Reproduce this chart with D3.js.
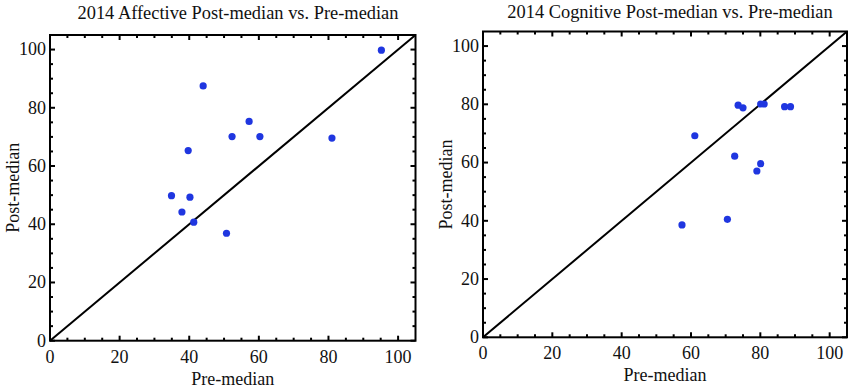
<!DOCTYPE html>
<html>
<head>
<meta charset="utf-8">
<script src="https://cdn.jsdelivr.net/npm/d3@7"></script>
<style>
  html, body { margin: 0; padding: 0; background: #fff; }
  svg { display: block; }
  text { font-family: "Liberation Serif", "Times New Roman", serif; fill: #111; }
</style>
</head>
<body>
<div id="chart"></div>
<script>
// values
const affectivePre  = [95.2, 44.0, 57.2, 52.3, 60.3, 81.0, 39.7, 34.9, 40.2, 37.9, 41.3, 50.7];
const affectivePost = [99.8, 87.5, 75.3, 70.1, 70.1, 69.6, 65.3, 49.8, 49.3, 44.2, 40.7, 36.9];

const cognitivePre  = [61.1, 73.6, 75.0, 80.1, 81.1, 87.0, 88.7, 72.6, 80.1, 79.0, 57.4, 70.5];
const cognitivePost = [69.2, 79.7, 78.8, 80.1, 80.1, 79.2, 79.2, 62.2, 59.6, 57.1, 38.6, 40.5];

const majorTicks = [0, 20, 40, 60, 80, 100];
const minorTicks = d3.range(5, 105, 5).filter(v => v % 20 !== 0);
const axisDomain = [0, 105];

const width = 850, height = 391;
const dotColor = '#1f36e0';

const svg = d3.select('#chart').append('svg')
    .attr('width', width)
    .attr('height', height);

function drawPanel(opts) {
    const x = d3.scaleLinear().domain(axisDomain).range([opts.left, opts.right]);
    const y = d3.scaleLinear().domain(axisDomain).range([opts.bottom, opts.top]);
    const g = svg.append('g');

    // title
    g.append('text')
        .attr('x', opts.titleX)
        .attr('y', opts.titleY)
        .attr('text-anchor', 'middle')
        .style('font-size', '18.4px')
        .text(opts.title);

    // diagonal y = x
    g.append('line')
        .attr('x1', x(0)).attr('y1', y(0))
        .attr('x2', x(105)).attr('y2', y(105))
        .attr('stroke', '#000')
        .attr('stroke-width', 2);

    // ticks (inward, mirrored on all four sides)
    const tickSets = [
        { vals: majorTicks, len: 5 },
        { vals: minorTicks, len: 3 }
    ];
    tickSets.forEach(ts => {
        ts.vals.forEach(v => {
            // bottom / top
            g.append('line').attr('x1', x(v)).attr('x2', x(v))
                .attr('y1', opts.bottom).attr('y2', opts.bottom - ts.len)
                .attr('stroke', '#000').attr('stroke-width', 2);
            g.append('line').attr('x1', x(v)).attr('x2', x(v))
                .attr('y1', opts.top).attr('y2', opts.top + ts.len)
                .attr('stroke', '#000').attr('stroke-width', 2);
            // left / right
            g.append('line').attr('y1', y(v)).attr('y2', y(v))
                .attr('x1', opts.left).attr('x2', opts.left + ts.len)
                .attr('stroke', '#000').attr('stroke-width', 2);
            g.append('line').attr('y1', y(v)).attr('y2', y(v))
                .attr('x1', opts.right).attr('x2', opts.right - ts.len)
                .attr('stroke', '#000').attr('stroke-width', 2);
        });
    });

    // frame
    g.append('rect')
        .attr('x', opts.left).attr('y', opts.top)
        .attr('width', opts.right - opts.left)
        .attr('height', opts.bottom - opts.top)
        .attr('fill', 'none')
        .attr('stroke', '#000')
        .attr('stroke-width', 2);

    // tick labels
    g.selectAll('.xlab')
        .data(majorTicks)
        .enter()
        .append('text')
        .attr('class', 'xlab')
        .attr('x', d => x(d))
        .attr('y', opts.bottom + 22)
        .attr('text-anchor', 'middle')
        .style('font-size', '18px')
        .text(d => d);

    g.selectAll('.ylab')
        .data(majorTicks)
        .enter()
        .append('text')
        .attr('class', 'ylab')
        .attr('x', opts.left - 4)
        .attr('y', d => y(d))
        .attr('dy', '0.33em')
        .attr('text-anchor', 'end')
        .style('font-size', '18px')
        .text(d => d);

    // axis titles
    g.append('text')
        .attr('x', (opts.left + opts.right) / 2)
        .attr('y', opts.bottom + 44)
        .attr('text-anchor', 'middle')
        .style('font-size', '18px')
        .text('Pre-median');

    g.append('text')
        .attr('transform', `translate(${opts.yTitleX},${(opts.top + opts.bottom) / 2}) rotate(-90)`)
        .attr('text-anchor', 'middle')
        .style('font-size', '18px')
        .text('Post-median');

    // points
    const pts = opts.pre.map((p, i) => ({ pre: p, post: opts.post[i] }));
    g.selectAll('.dot')
        .data(pts)
        .enter()
        .append('circle')
        .attr('class', 'dot')
        .attr('cx', d => x(d.pre))
        .attr('cy', d => y(d.post))
        .attr('r', 3.6)
        .attr('fill', dotColor);
}

drawPanel({
    title: '2014 Affective Post-median vs. Pre-median',
    titleX: 238, titleY: 19,
    left: 50, right: 415.5, top: 35, bottom: 340.7,
    yTitleX: 19,
    pre: affectivePre, post: affectivePost
});

drawPanel({
    title: '2014 Cognitive Post-median vs. Pre-median',
    titleX: 670, titleY: 18,
    left: 483, right: 847, top: 31.5, bottom: 337.3,
    yTitleX: 452,
    pre: cognitivePre, post: cognitivePost
});
</script>
</body>
</html>
